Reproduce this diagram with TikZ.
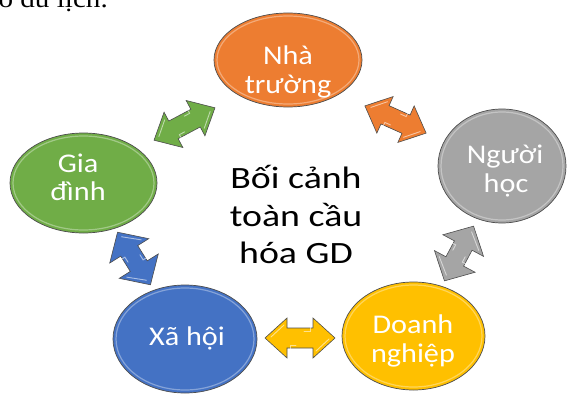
\documentclass[tikz,border=0pt]{standalone}
\usepackage{fontspec}
\setmainfont{Carlito}
\newfontfamily\bodyserif{Liberation Serif}
\usetikzlibrary{shapes.geometric}

\definecolor{cOrange}{HTML}{ED7D31}
\definecolor{cGray}{HTML}{A5A5A5}
\definecolor{cYellow}{HTML}{FFC000}
\definecolor{cBlue}{HTML}{4472C4}
\definecolor{cGreen}{HTML}{70AD47}
\definecolor{cEdge}{HTML}{4D4D4D}

\tikzset{
  bubble/.style={ellipse, draw=cEdge, line width=0.7pt, inner sep=0pt},
  bubblerim/.style={ellipse, draw=white, draw opacity=0.35, line width=1.2pt, inner sep=0pt},
  bubbletext/.style={text=white, anchor=base, inner sep=0pt,
    font=\fontsize{27}{29}\selectfont, xscale=1.12},
  hubtext/.style={text=black, anchor=base, inner sep=0pt,
    font=\fontsize{31}{37}\selectfont, xscale=1.22},
  arrowbody/.style={draw=cEdge, line width=0.6pt, line join=miter},
  glint/.style={draw=white, draw opacity=0.55, line width=0.9pt, line cap=round},
}

% double-headed block arrow: centre, angle, length, head half-width, colour, name
\newcommand\blockarrow[6]{%
  \begin{scope}[shift={(#1)}, rotate=#2]
    \coordinate (#6) at (0,0);
    \pgfmathsetmacro\arrHalf{#3/2}
    \pgfmathsetmacro\arrBase{#3/2-22}
    \pgfmathsetmacro\arrHead{#4}
    \draw[arrowbody, fill=#5]
      (-\arrHalf,0) -- (-\arrBase,\arrHead) -- (-\arrBase,10) -- (\arrBase,10)
      -- (\arrBase,\arrHead) -- (\arrHalf,0) -- (\arrBase,-\arrHead)
      -- (\arrBase,-10) -- (-\arrBase,-10) -- (-\arrBase,-\arrHead) -- cycle;
    \draw[glint] (-\arrBase+3,\arrHead-6) -- (-\arrBase+3,7) -- (-\arrBase+9,7);
    \draw[glint] (\arrBase-3,-\arrHead+6) -- (\arrBase-3,-7) -- (\arrBase-9,-7);
    \draw[glint] (\arrHalf-6,1) -- (\arrBase+3,\arrHead-7);
    \draw[glint] (-\arrHalf+6,-1) -- (-\arrBase-3,-\arrHead+7);
  \end{scope}}

\begin{document}
\begin{tikzpicture}[x=1pt, y=-1pt]
  \useasboundingbox[fill=white] (0,0) rectangle (569,393);

  % tail of the preceding sentence
  \node[anchor=base east, inner sep=0pt, font=\bodyserif\fontsize{26}{28}\selectfont,
        xscale=1.12] (prev) at (108,7.5) {o du lịch.};

  % the five partners
  \node[bubble, fill=cOrange, minimum width=148, minimum height=94] (nt) at (288,60) {};
  \node[bubble, fill=cGray,   minimum width=128, minimum height=114] (nh) at (502,166) {};
  \node[bubble, fill=cGreen,  minimum width=147, minimum height=100] (gd) at (83.5,183) {};
  \node[bubble, fill=cBlue,   minimum width=144, minimum height=108] (xh) at (185,339) {};
  \node[bubble, fill=cYellow, minimum width=143, minimum height=108] (dn) at (413.5,336) {};

  \node[bubblerim, minimum width=142, minimum height=88]  (ntrim) at (nt) {};
  \node[bubblerim, minimum width=122, minimum height=108] (nhrim) at (nh) {};
  \node[bubblerim, minimum width=141, minimum height=94]  (gdrim) at (gd) {};
  \node[bubblerim, minimum width=138, minimum height=102] (xhrim) at (xh) {};
  \node[bubblerim, minimum width=137, minimum height=102] (dnrim) at (dn) {};

  % labels
  \node[bubbletext] (nt1) at (288,65) {Nhà};
  \node[bubbletext] (nt2) at (288,93) {trường};
  \node[bubbletext] (nh1) at (505,163) {Người};
  \node[bubbletext] (nh2) at (506,192) {học};
  \node[bubbletext] (gd1) at (78,172) {Gia};
  \node[bubbletext] (gd2) at (78,200) {đình};
  \node[bubbletext] (xh1) at (187,345) {Xã hội};
  \node[bubbletext] (dn1) at (413,333) {Doanh};
  \node[bubbletext] (dn2) at (413,362) {nghiệp};

  % centre caption
  \node[hubtext] (hub1) at (296,188) {Bối cảnh};
  \node[hubtext] (hub2) at (296,226) {toàn cầu};
  \node[hubtext] (hub3) at (296,263) {hóa GD};

  % two-way links
  \blockarrow{184.5,124}{28}{69}{20}{cGreen}{gdnt}
  \blockarrow{395.5,119.5}{-24}{67}{20}{cOrange}{ntnh}
  \blockarrow{459,253.5}{62}{62}{23}{cGray}{nhdn}
  \blockarrow{134,258.5}{-58}{62}{23}{cBlue}{gdxh}
  \blockarrow{300,338}{0}{70}{20}{cYellow}{xhdn}
\end{tikzpicture}
\end{document}
